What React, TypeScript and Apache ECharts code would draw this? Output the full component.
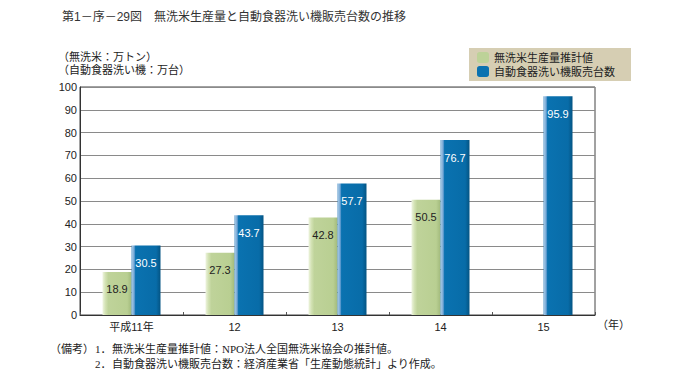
import React, { useEffect, useRef } from "react";
import * as echarts from "echarts";

const years = ["平成11年", "12", "13", "14", "15"];
const riceOutput = [18.9, 27.3, 42.8, 50.5, null];
const dishwasherSales = [30.5, 43.7, 57.7, 76.7, 95.9];
const seriesNames = ["無洗米生産量推計値", "自動食器洗い機販売台数"];
const titleText = "第1－序－29図　無洗米生産量と自動食器洗い機販売台数の推移";
const unitLines = ["（無洗米：万トン）", "（自動食器洗い機：万台）"];
const noteLines = [
  "無洗米生産量推計値：NPO法人全国無洗米協会の推計値。",
  "自動食器洗い機販売台数：経済産業省「生産動態統計」より作成。",
];

const SANS = "'Liberation Sans', Arial, 'Noto Sans CJK JP', sans-serif";
const SERIF = "'Liberation Serif', 'Noto Sans CJK JP', serif";

export default function App() {
  const ref = useRef<HTMLDivElement>(null);
  useEffect(() => {
    document.body.style.margin = "0";
    const chart = echarts.init(ref.current!, null, { renderer: "svg" });
    const green = new echarts.graphic.LinearGradient(0, 0, 1, 0, [
      { offset: 0, color: "#eef4df" },
      { offset: 0.1, color: "#d3e2b4" },
      { offset: 0.2, color: "#bfd39a" },
      { offset: 0.85, color: "#b9cf92" },
      { offset: 1, color: "#a2ba7c" },
    ]);
    const blue = new echarts.graphic.LinearGradient(0, 0, 1, 0, [
      { offset: 0, color: "#4f93c8" },
      { offset: 0.04, color: "#a3c5e4" },
      { offset: 0.1, color: "#5f9bcf" },
      { offset: 0.14, color: "#0a72b0" },
      { offset: 0.85, color: "#086ca8" },
      { offset: 1, color: "#045483" },
    ]);
    const labelBase = {
      show: true,
      position: "insideTop",
      distance: 12,
      fontSize: 11,
      fontWeight: "normal",
      fontFamily: SANS,
    };
    chart.setOption({
      animation: false,
      textStyle: { fontFamily: SANS },
      grid: {
        left: 80,
        top: 87,
        width: 515,
        height: 228,
        show: true,
        borderColor: "#444",
        borderWidth: 1,
        backgroundColor: "transparent",
      },
      legend: {
        orient: "vertical",
        left: 469,
        top: 48,
        backgroundColor: "#d6ceb3",
        padding: [4, 16, 4, 8],
        itemGap: 3,
        itemWidth: 12,
        itemHeight: 11,
        textStyle: { fontSize: 11, color: "#222", fontFamily: SANS },
        data: [
          { name: seriesNames[0], itemStyle: { color: "#bdd298" } },
          { name: seriesNames[1], itemStyle: { color: "#0a72b0" } },
        ],
      },
      xAxis: {
        type: "category",
        data: years,
        axisLine: { lineStyle: { color: "#333", width: 1 } },
        axisTick: { show: true, inside: true, length: 3, lineStyle: { color: "#555" } },
        axisLabel: { fontSize: 11, color: "#222", margin: 6 },
      },
      yAxis: {
        type: "value",
        min: 0,
        max: 100,
        interval: 10,
        axisLine: { show: true, lineStyle: { color: "#333", width: 1 } },
        axisTick: { show: false },
        axisLabel: { fontSize: 11, color: "#222", margin: 3 },
        splitLine: { lineStyle: { color: "#8a8a8a", width: 1.2 } },
      },
      series: [
        {
          name: seriesNames[0],
          type: "bar",
          data: riceOutput,
          barWidth: 29,
          barGap: "0%",
          itemStyle: { color: green },
          label: { ...labelBase, color: "#222" },
        },
        {
          name: seriesNames[1],
          type: "bar",
          data: dishwasherSales,
          barWidth: 29,
          barGap: "0%",
          itemStyle: { color: blue },
          label: { ...labelBase, color: "#fff" },
        },
      ],
      graphic: [
        {
          type: "text",
          left: 62,
          top: 11,
          style: { text: titleText, fontSize: 12, fill: "#333", fontFamily: SANS },
        },
        {
          type: "text",
          left: 58,
          top: 51,
          style: { text: unitLines[0], fontSize: 11, fill: "#222", fontFamily: SANS },
        },
        {
          type: "text",
          left: 58,
          top: 64,
          style: { text: unitLines[1], fontSize: 11, fill: "#222", fontFamily: SANS },
        },
        {
          type: "text",
          left: 597,
          top: 319,
          style: { text: "（年）", fontSize: 11, fill: "#222", fontFamily: SANS },
        },
        {
          type: "text",
          left: 50,
          top: 343,
          style: { text: "（備考）", fontSize: 11, fill: "#222", fontFamily: SERIF },
        },
        {
          type: "text",
          left: 95,
          top: 343,
          style: { text: "1．", fontSize: 11, fill: "#222", fontFamily: SERIF },
        },
        {
          type: "text",
          left: 112,
          top: 343,
          style: { text: noteLines[0], fontSize: 11, fill: "#222", fontFamily: SERIF },
        },
        {
          type: "text",
          left: 95,
          top: 358,
          style: { text: "2．", fontSize: 11, fill: "#222", fontFamily: SERIF },
        },
        {
          type: "text",
          left: 112,
          top: 358,
          style: { text: noteLines[1], fontSize: 11, fill: "#222", fontFamily: SERIF },
        },
      ],
    });
    return () => chart.dispose();
  }, []);
  return (
    <div
      ref={ref}
      style={{ position: "fixed", left: 0, top: 0, width: 689, height: 387, background: "#fff" }}
    />
  );
}
